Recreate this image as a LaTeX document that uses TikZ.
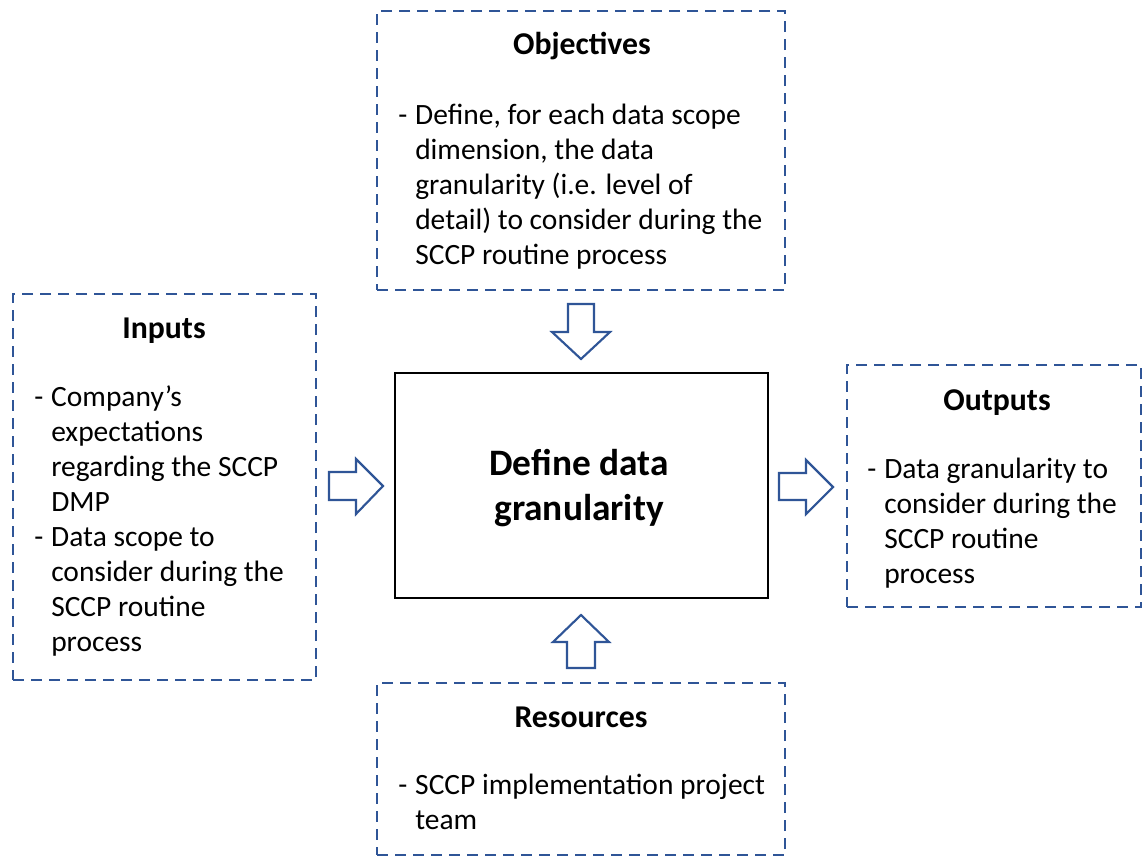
\documentclass[tikz,border=0pt]{standalone}
\usepackage{fontspec}
\setmainfont{Carlito}
\usetikzlibrary{positioning}
\definecolor{dblue}{HTML}{2F5597}
\definecolor{ablue}{HTML}{2F5597}
\newcommand\bodyfont{\fontsize{22.1pt}{26.25pt}\selectfont}
\newcommand\titlefont{\fontsize{23.8pt}{26.25pt}\selectfont\bfseries}
\newcommand\dashcol{\makebox[12.75pt][l]{-}}
\tikzset{
  dbox/.style={draw=dblue, line width=1.8pt, dash pattern=on 8.25pt off 5.25pt, inner sep=0pt},
  mainbox/.style={draw=black, line width=1.6pt, inner sep=0pt},
  ttl/.style={anchor=base, inner sep=0pt, font=\titlefont},
  bod/.style={anchor=base west, inner sep=0pt, font=\bodyfont},
  blockarrow/.style={draw=ablue, line width=1.6pt, fill=white, line join=miter},
}
\begin{document}
\begin{tikzpicture}[x=0.75pt,y=-0.75pt]
\useasboundingbox (0,0) rectangle (1142,857);

% boxes
\node[dbox, minimum width=306pt, minimum height=209.25pt] (obj) at (581,150.5) {};
\node[dbox, minimum width=227.25pt, minimum height=289.5pt] (inp) at (164.5,487) {};
\node[dbox, minimum width=220.5pt, minimum height=181.5pt] (out) at (994,486) {};
\node[dbox, minimum width=306pt, minimum height=129pt] (res) at (581,769) {};
\node[mainbox, minimum width=279.75pt, minimum height=168.75pt] (main) at (581.5,485.5) {};

% center text
\node[anchor=base, inner sep=0pt, align=center, font=\fontsize{28pt}{33.75pt}\selectfont\bfseries] (maintxt) at (579,475) {\begin{tabular}[t]{@{}c@{}}Define data\\granularity\end{tabular}};

% titles
\node[ttl] (objt) at (582,54) {Objectives};
\node[ttl] (inpt) at (164,338) {Inputs};
\node[ttl] (outt) at (997,410) {Outputs};
\node[ttl] (rest) at (581,727) {Resources};

% bodies
\node[bod] (objb) at (398,124) {\begin{tabular}[t]{@{}l@{}l@{}}
\dashcol & Define, for each data scope\\
 & dimension, the data\\
 & granularity (i.e. level of\\
 & detail) to consider during the\\
 & SCCP routine process
\end{tabular}};
\node[bod] (inpb) at (34,406) {\begin{tabular}[t]{@{}l@{}l@{}}
\dashcol & Company’s\\
 & expectations\\
 & regarding the SCCP\\
 & DMP\\
\dashcol & Data scope to\\
 & consider during the\\
 & SCCP routine\\
 & process
\end{tabular}};
\node[bod] (outb) at (867,478) {\begin{tabular}[t]{@{}l@{}l@{}}
\dashcol & Data granularity to\\
 & consider during the\\
 & SCCP routine\\
 & process
\end{tabular}};
\node[bod] (resb) at (398,794) {\begin{tabular}[t]{@{}l@{}l@{}}
\dashcol & SCCP implementation project\\
 & team
\end{tabular}};

% block arrows
\draw[blockarrow] (568,304) -- (594,304) -- (594,332) -- (610,332) -- (581,359) -- (552,332) -- (568,332) -- cycle;
\draw[blockarrow] (567,668) -- (595,668) -- (595,642) -- (609,642) -- (581,615) -- (553,642) -- (567,642) -- cycle;
\draw[blockarrow] (329,472) -- (356,472) -- (356,459) -- (383,486) -- (356,514) -- (356,500) -- (329,500) -- cycle;
\draw[blockarrow] (779,473) -- (806,473) -- (806,460) -- (833,487) -- (806,514) -- (806,500) -- (779,500) -- cycle;
\end{tikzpicture}
\end{document}
